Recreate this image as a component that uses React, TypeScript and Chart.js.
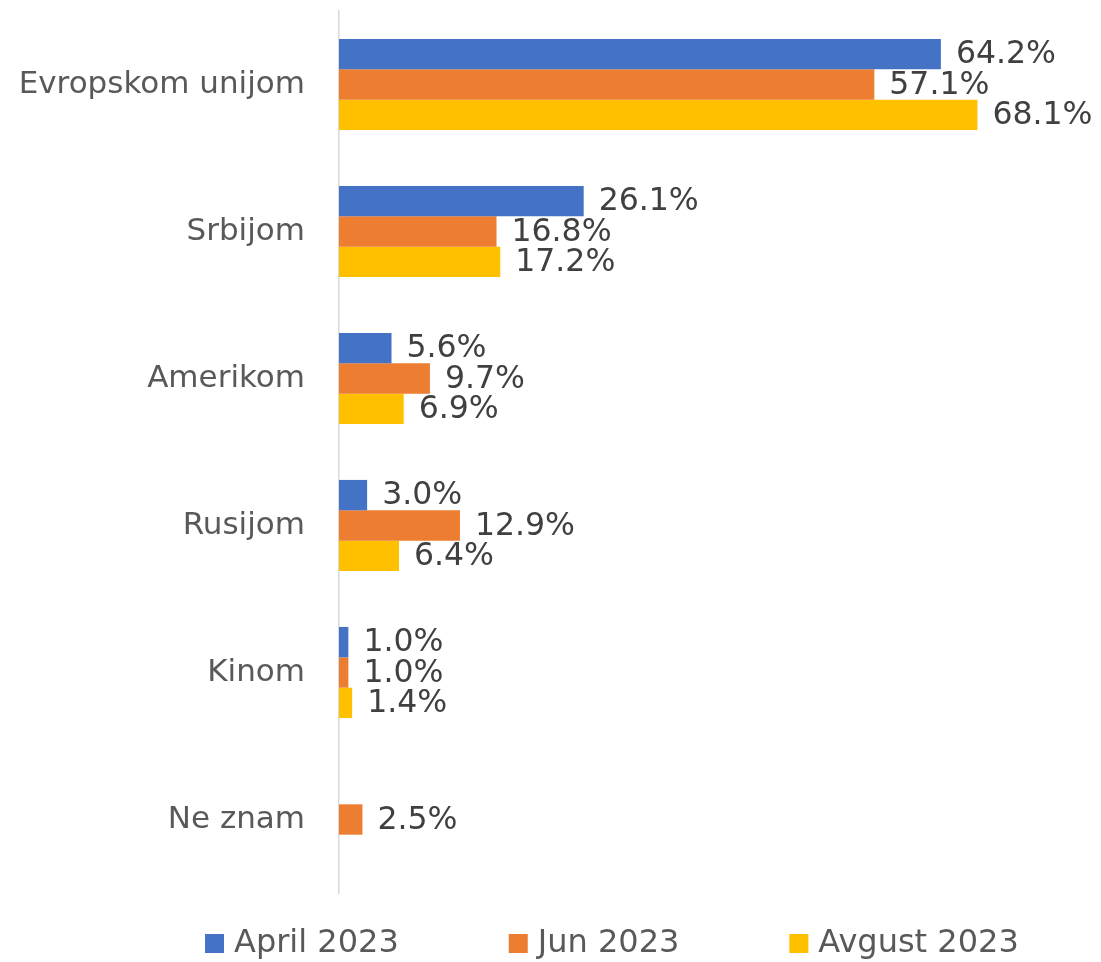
import React, { useEffect, useRef } from "react";
import { Chart, registerables } from "chart.js";

Chart.register(...registerables);

const categories = ["Evropskom unijom", "Srbijom", "Amerikom", "Rusijom", "Kinom", "Ne znam"];
const seriesNames = ["April 2023", "Jun 2023", "Avgust 2023"];
const aprilValues: (number | null)[] = [64.2, 26.1, 5.6, 3.0, 1.0, null];
const junValues: (number | null)[] = [57.1, 16.8, 9.7, 12.9, 1.0, 2.5];
const avgustValues: (number | null)[] = [68.1, 17.2, 6.9, 6.4, 1.4, null];
const seriesColors = ["#4472C4", "#ED7D31", "#FFC000"];

const FONT = "'DejaVu Sans', sans-serif";

const dataLabelPlugin = {
  id: "dataLabels",
  afterDatasetsDraw(chart: any) {
    const ctx = chart.ctx;
    ctx.save();
    ctx.font = `31.5px ${FONT}`;
    ctx.fillStyle = "#404040";
    ctx.textAlign = "left";
    ctx.textBaseline = "middle";
    chart.data.datasets.forEach((ds: any, di: number) => {
      const meta = chart.getDatasetMeta(di);
      meta.data.forEach((el: any, i: number) => {
        const v = ds.data[i];
        if (v === null || v === undefined) return;
        ctx.fillText(v.toFixed(1) + "%", el.x + 15, el.y + 1);
      });
    });
    ctx.restore();
  },
};

const customLegendPlugin = {
  id: "customLegend",
  afterDraw(chart: any) {
    const ctx = chart.ctx;
    ctx.save();
    ctx.font = `32px ${FONT}`;
    ctx.textBaseline = "middle";
    ctx.textAlign = "left";
    const box = 19;
    const boxGap = 10;
    const itemGap = 110;
    const cy = 943.5;
    let x = 205;
    chart.data.datasets.forEach((ds: any) => {
      ctx.fillStyle = ds.backgroundColor;
      ctx.fillRect(x, cy - box / 2, box, box);
      ctx.fillStyle = "#595959";
      const tx = x + box + boxGap;
      ctx.fillText(ds.label, tx, cy);
      x = tx + ctx.measureText(ds.label).width + itemGap;
    });
    ctx.restore();
  },
};

export default function App() {
  const canvasRef = useRef<HTMLCanvasElement | null>(null);

  useEffect(() => {
    if (!canvasRef.current) return;
    const seriesValues = [aprilValues, junValues, avgustValues];
    const chart = new Chart(canvasRef.current, {
      type: "bar",
      data: {
        labels: categories,
        datasets: seriesNames.map((name, i) => ({
          label: name,
          data: seriesValues[i],
          backgroundColor: seriesColors[i],
          borderWidth: 0,
          categoryPercentage: 0.62,
          barPercentage: 1.0,
        })),
      },
      options: {
        indexAxis: "y",
        responsive: false,
        animation: false,
        layout: { padding: { top: 11, bottom: 69, left: 0, right: 12 } },
        plugins: {
          legend: { display: false },
          tooltip: { enabled: false },
        },
        scales: {
          x: {
            display: false,
            min: 0,
            max: 80,
          },
          y: {
            afterFit: (s: any) => {
              s.width = 339;
            },
            grid: {
              display: true,
              color: "rgba(0,0,0,0)",
              drawTicks: true,
              tickLength: 34,
              tickColor: "rgba(0,0,0,0)",
            },
            border: { display: true, color: "#d9d9d9", width: 1.5 },
            ticks: {
              padding: 0,
              color: "#595959",
              font: { family: FONT, size: 31, lineHeight: 0.6 },
            },
          },
        },
      },
      plugins: [dataLabelPlugin, customLegendPlugin],
    } as any);
    return () => chart.destroy();
  }, []);

  return (
    <div style={{ position: "absolute", left: 0, top: 0, width: 1101, height: 962, background: "#fff" }}>
      <canvas ref={canvasRef} width={1101} height={962} />
    </div>
  );
}
